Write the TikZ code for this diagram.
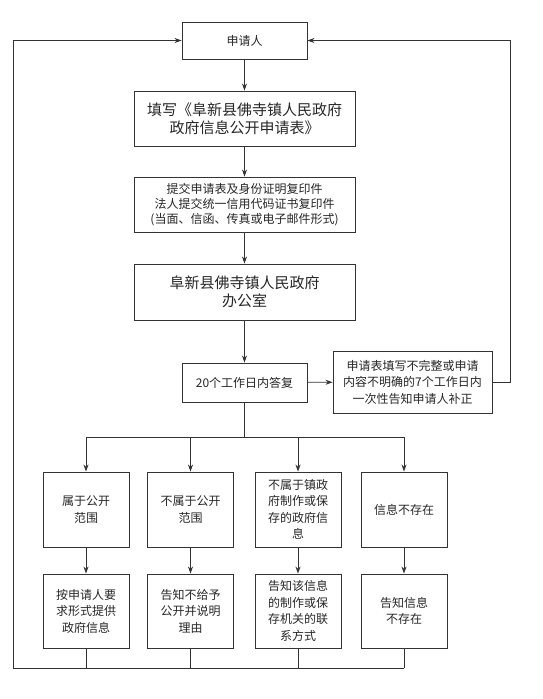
\documentclass[tikz,border=0pt]{standalone}
\usepackage{fontspec}
\setmainfont{Noto Sans CJK SC}
\usetikzlibrary{positioning, arrows.meta, calc}

\begin{document}
\begin{tikzpicture}[x=1pt, y=-1pt,
    box/.style={draw=black!80, line width=0.9pt, align=center, inner sep=1pt,
      text=black!85, font=\fontsize{12}{16.5}\selectfont},
    bigbox/.style={box, font=\fontsize{15}{18}\selectfont},
    rowbox/.style={box, minimum width=86pt, minimum height=75pt},
    arr/.style={-{Stealth[length=7pt, width=5pt]}, line width=0.8pt, draw=black!80},
    link/.style={line width=0.8pt, draw=black!80}]
        \useasboundingbox (0,0) rectangle (543,699);

        % main column
        \node[box, minimum width=125pt, minimum height=37pt] (applicant) at (244.5,40.5) {申请人};
        \node[bigbox, minimum width=221pt, minimum height=55pt] (form) at (244.5,118.5)
            {填写《阜新县佛寺镇人民政府\\政府信息公开申请表》};
        \node[box, minimum width=221pt, minimum height=55pt, font=\fontsize{12}{15}\selectfont] (submit) at (244.5,204.5)
            {提交申请表及身份证明复印件\\法人提交统一信用代码证书复印件\\(当面、信函、传真或电子邮件形式)};
        \node[bigbox, minimum width=221pt, minimum height=56pt] (office) at (244.5,292)
            {阜新县佛寺镇人民政府\\办公室};
        \node[box, minimum width=125pt, minimum height=39pt] (reply) at (244.5,382.5) {20个工作日内答复};
        \node[box, minimum width=159pt, minimum height=62pt] (supplement) at (412.5,382)
            {申请表填写不完整或申请\\内容不明确的7个工作日内\\一次性告知申请人补正};

        % branches
        \node[rowbox] (r1a) at (86,509.5) {属于公开\\范围};
        \node[rowbox] (r1b) at (190.5,509.5) {不属于公开\\范围};
        \node[rowbox] (r1c) at (298,509.5) {不属于镇政\\府制作或保\\存的政府信\\息};
        \node[rowbox] (r1d) at (404,509.5) {信息不存在};

        \node[rowbox, minimum height=74pt] (r2a) at (86,611) {按申请人要\\求形式提供\\政府信息};
        \node[rowbox, minimum height=74pt] (r2b) at (190.5,611) {告知不给予\\公开并说明\\理由};
        \node[rowbox, minimum height=74pt] (r2c) at (298,611) {告知该信息\\的制作或保\\存机关的联\\系方式};
        \node[rowbox, minimum height=74pt] (r2d) at (404,611) {告知信息\\不存在};

        \coordinate (split) at (244.5,437);
        \coordinate (bottom) at (13,668);

        % arrows
        \draw[arr] (applicant) -- (form);
        \draw[arr] (form) -- (submit);
        \draw[arr] (submit) -- (office);
        \draw[arr] (office) -- (reply);
        \draw[arr] (reply) -- (supplement);
        \draw[arr] (supplement.east) -- ++(18,0) |- (applicant.east);

        \draw[link] (reply.south) -- (split);
        \draw[link] (split -| r1a) -- (split -| r1d);
        \foreach \n in {a,b,c,d} {
            \draw[arr] (split -| r1\n.north) -- (r1\n.north);
            \draw[arr] (r1\n) -- (r2\n);
            \draw[link] (r2\n.south) -- (r2\n.south |- bottom);
        }
        \draw[arr] (r2d.south |- bottom) -- (bottom) |- (applicant.west);
      \end{tikzpicture}
\end{document}
